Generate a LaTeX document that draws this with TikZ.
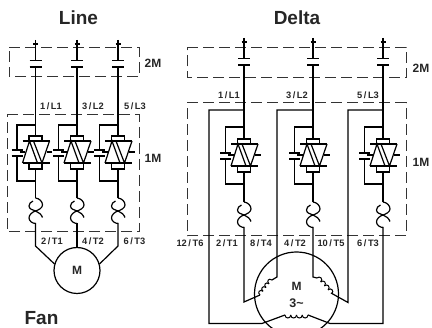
\documentclass[tikz,border=0pt]{standalone}
\usepackage{fontspec}
\setmainfont{Liberation Sans}
\tikzset{
  wire/.style={line width=1.2pt,line join=miter},
  plate/.style={line width=1.5pt},
  box/.style={line width=1pt,dash pattern=on 11pt off 5pt,draw=black!80},
  lab/.style={font=\bfseries\fontsize{9.3}{11}\selectfont,inner sep=0pt,text=black!85},
  tag/.style={font=\bfseries\fontsize{12}{14}\selectfont,inner sep=0pt,text=black!85},
  title/.style={font=\bfseries\fontsize{19}{22}\selectfont,inner sep=0pt,text=black!85},
}
% contactor: #1 x, #2 top y, #3 upper plate y
\newcommand{\contactor}[3]{%
  \draw[wire] (#1,#2) -- (#1,#3);
  \draw[wire] (#1-2.5,#2+4) -- (#1+2.5,#2+4);
  \draw[plate] (#1-6,#3) -- (#1+6,#3);
  \draw[plate] (#1-6,#3+6.5) -- (#1+6,#3+6.5);
}
% soft-starter block: #1 x, #2 branch y, #3 rect top y, #4 bottom return y
\newcommand{\softblock}[4]{%
  \draw[wire] (#1,#4+16) -- (#1,#4-6);
  \draw[wire] (#1,#2) -- (#1-18.5,#2) -- (#1-18.5,#3+14);
  \draw[wire] (#1-18.5,#3+20) -- (#1-18.5,#4) -- (#1,#4);
  \draw[plate] (#1-24,#3+14) -- (#1-13,#3+14);
  \draw[plate] (#1-24,#3+20) -- (#1-13,#3+20);
  \draw[wire,fill=white] (#1-6.5,#3) rectangle (#1+6.5,#3+5);
  \draw[wire,fill=white] (#1-6.5,#3+27) rectangle (#1+6.5,#3+33);
  \draw[wire] (#1-13,#3+5) -- (#1+14,#3+5);
  \draw[wire] (#1-13,#3+27) -- (#1+14,#3+27);
  \draw[wire] (#1-13,#3+27) -- (#1-6,#3+5) -- (#1+2,#3+27);
  \draw[wire] (#1-2,#3+5) -- (#1+6.5,#3+27) -- (#1+14,#3+5);
  \draw[wire] (#1-16,#3+16) -- (#1-10.5,#3+16);
  \draw[wire] (#1+11,#3+16) -- (#1+16.5,#3+16);
}
% overload: #1 x, #2 top y (height 25.5)
\newcommand{\overload}[2]{%
  \draw[wire] (#1,#2) .. controls (#1+4,#2+0.5) and (#1+7,#2+3.5) .. (#1+7,#2+7)
     .. controls (#1+7,#2+10) and (#1+3,#2+12) .. (#1,#2+13)
     .. controls (#1-3,#2+14) and (#1-6.5,#2+16.5) .. (#1-6.5,#2+20)
     .. controls (#1-6.5,#2+23) and (#1-3,#2+25.5) .. (#1,#2+25.5);
  \draw[wire] (#1-2.5,#2+3) .. controls (#1-5,#2+4) and (#1-6.5,#2+6) .. (#1-6.5,#2+8)
     .. controls (#1-6.5,#2+11) and (#1-3,#2+12) .. (#1,#2+13)
     .. controls (#1+3,#2+14) and (#1+6,#2+16.5) .. (#1+7,#2+19.5);
}
% winding: #1 start x, #2 start y, #3 angle, #4 bump length, #5 bump height
\newcommand{\winding}[5]{%
  \foreach \i in {0,1,2,3}{
    \draw[shift={(#1,#2)},rotate=#3,line width=1pt]
      (\i*#4,0) .. controls (\i*#4,#5) and (\i*#4+#4,#5) .. (\i*#4+#4,0);
  }
}
\begin{document}
\begin{tikzpicture}[x=1pt,y=-1pt]
\useasboundingbox (0,0) rectangle (432,328);
\clip (0,0) rectangle (432,328);
% titles
\node[title] (tline) at (78.5,18) {Line};
\node[title] (tdelta) at (297,18) {Delta};
\node[title] (tfan) at (41.5,318.5) {Fan};
% dashed boxes left
\draw[box] (9,48) -- (139,48) -- (139,77) -- (9,77) -- cycle;
\draw[box] (7,115) -- (139,115) -- (139,232) -- (7,232) -- cycle;
\node[tag] (a2m) at (153,63.5) {2M};
\node[tag] (a1m) at (153,158) {1M};
% left phases
\foreach \xx in {35.5,77,118}{
  \contactor{\xx}{40}{60.5}
  \draw[wire] (\xx,67) -- (\xx,136);
  \softblock{\xx}{125}{136}{181}
  \draw[wire] (\xx,169) -- (\xx,198);
  \overload{\xx}{198}
}
\draw[wire] (77,270.5) circle (23);
\node[tag] (mm) at (77,270.5) {M};
\draw[wire] (35.5,223) -- (35.5,246) -- (54.5,264);
\draw[wire] (77,223) -- (77,247.5);
\draw[wire] (118,223) -- (118,246) -- (99.5,264);
\node[lab] (l1) at (51,106.5) {1\,/\,L1};
\node[lab] (l2) at (93,106.5) {3\,/\,L2};
\node[lab] (l3) at (135,106.5) {5\,/\,L3};
\node[lab] (t1) at (52,241.5) {2\,/\,T1};
\node[lab] (t2) at (93,241.5) {4\,/\,T2};
\node[lab] (t3) at (134.5,241.5) {6\,/\,T3};
% right boxes
\draw[box] (187,47.5) -- (406,47.5) -- (406,78) -- (187,78) -- cycle;
\draw[box] (187,103) -- (406,103) -- (406,236) -- (187,236) -- cycle;
\node[tag] (b2m) at (421,68.5) {2M};
\node[tag] (b1m) at (421,162) {1M};
% right phases
\foreach \xx in {244,313,383}{
  \contactor{\xx}{38}{58.5}
  \draw[wire] (\xx,65) -- (\xx,139);
  \softblock{\xx}{127}{139}{184}
  \draw[wire] (\xx,172) -- (\xx,202);
  \overload{\xx}{202}
}
% motor
\draw[wire] (296.5,294) circle (42);
\node[tag] (dm) at (296.5,286.5) {M};
\node[tag,font=\bfseries\fontsize{12.5}{14}\selectfont] (d3) at (296.5,303) {3\char`\~};
% loops
\draw[wire] (244,110) -- (209,110) -- (209,323.5) -- (262,323.5) -- (285,315);
\draw[wire] (313,110) -- (277,110) -- (277,277) -- (272,280);
\draw[wire] (383,110) -- (348,110) -- (348,302.5) -- (331,293);
% phase outputs
\draw[wire] (244,227) -- (244,302) -- (260,295);
\draw[wire] (313,227) -- (313,277) -- (317,278);
\draw[wire] (383,227) -- (383,323.5) -- (330,323.5) -- (308,315);
% windings
\winding{285}{315}{0}{5.75}{4}
\winding{260}{295}{51}{4.8}{-4}
\winding{317}{278}{-47}{5.4}{-4}
% labels right
\node[lab] (c1) at (229,95) {1\,/\,L1};
\node[lab] (c2) at (297,95) {3\,/\,L2};
\node[lab] (c3) at (368,95) {5\,/\,L3};
\node[lab] (d1) at (190,243) {12\,/\,T6};
\node[lab] (d2) at (227,243) {2\,/\,T1};
\node[lab] (d3x) at (261,243) {8\,/\,T4};
\node[lab] (d4) at (295,243) {4\,/\,T2};
\node[lab] (d5) at (331,243) {10\,/\,T5};
\node[lab] (d6) at (368,243) {6\,/\,T3};
\end{tikzpicture}
\end{document}
